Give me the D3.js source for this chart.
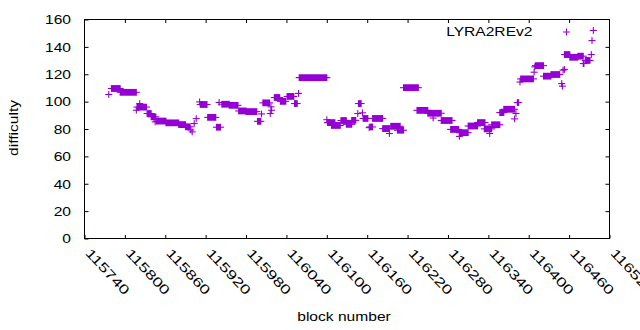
<!DOCTYPE html>
<html><head><meta charset="utf-8">
<script src="https://cdn.jsdelivr.net/npm/d3@7/dist/d3.min.js"></script>
<style>body{margin:0;background:#fff}svg{display:block}</style>
</head><body><svg id="c" width="640" height="330"></svg>
<script>
// Runs of constant difficulty: first block, last block, difficulty (single points have start == end)
const runStart = [115776,115780,115793,115817,115818,115822,115833,115839,115845,115847,115861,115880,115890,115898,115900,115903,115906,115911,115912,115923,115936,115940,115944,115955,115969,115980,115997,116003,116005,116016,116017,116018,116022,116031,116041,116052,116058,116059,
116100,116101,116107,116121,116129,116137,116146,116147,116153,116154,116163,116164,116168,116183,116193,116195,116205,116214,116234,116250,116258,116270,116284,116297,116297,116310,116324,116334,116342,116345,116357,116363,116379,116381,116383,116387,116388,116408,116409,116410,116422,116433,116449,116450,116451,116453,116453,116461,116473,116481,116484,116493,116494,116496];
const runEnd = [115776,115793,115817,115817,115832,115822,115839,115846,115845,115861,115880,115890,115897,115898,115900,115903,115906,115911,115922,115935,115942,115940,115955,115968,115980,115996,116002,116003,116015,116016,116017,116018,116030,116039,116051,116056,116058,116100,
116100,116112,116120,116129,116137,116143,116146,116151,116153,116161,116163,116168,116183,116193,116193,116209,116214,116236,116250,116270,116258,116286,116296,116297,116310,116324,116335,116345,116342,116357,116363,116379,116379,116381,116385,116387,116407,116408,116409,116422,116433,116446,116449,116450,116451,116453,116461,116473,116481,116482,116491,116493,116494,116496];
const runDiff = [105.2,109.6,106.8,93.7,96.0,98.6,91.3,88.9,85.2,85.8,84.5,83.2,81.6,79.3,77.9,84.0,87.6,99.8,97.9,88.5,81.3,99.4,98.1,97.3,93.2,92.7,85.6,91.0,99.1,91.3,96.2,93.7,103.0,100.2,103.8,98.6,106.0,117.5,
86.8,84.7,82.6,86.2,83.4,86.3,91.3,98.6,91.8,87.7,81.0,81.5,87.7,80.3,76.7,82.0,79.1,110.2,93.6,91.5,88.0,86.2,79.7,74.6,77.3,82.2,84.7,80.1,76.7,83.1,92.0,94.4,87.4,91.3,99.3,114.3,116.6,121.5,125.4,126.3,118.6,119.8,113.2,111.3,123.0,123.5,134.4,132.4,133.2,127.8,130.1,134.4,144.6,152.0];

const xTickValues = [115740,115800,115860,115920,115980,116040,116100,116160,116220,116280,116340,116400,116460,116520];
const yTickValues = [0,20,40,60,80,100,120,140,160];
const seriesName = "LYRA2REv2";
const xTitle = "block number";
const yTitle = "difficulty";

const W = 640, H = 330;
const L = 84.5, R = 609.5, T = 19.5, B = 238.5;
const COLOR = "#9400d3";
const FONT = "'Liberation Sans', Arial, sans-serif";
const SX = 1.3; // horizontal stretch of glyphs
const FS = 12;

const svg = d3.select("#c");
svg.append("rect").attr("width", W).attr("height", H).attr("fill", "#fff");

const x = d3.scaleLinear().domain([115740, 116520]).range([L, R]);
const y = d3.scaleLinear().domain([0, 160]).range([B, T]);

// axes (inward ticks on all four sides)
const gL = svg.append("g").attr("transform", `translate(${L},0)`)
  .call(d3.axisLeft(y).tickValues(yTickValues).tickSizeInner(-4).tickSizeOuter(0).tickPadding(0));
const gRt = svg.append("g").attr("transform", `translate(${R},0)`)
  .call(d3.axisRight(y).tickValues(yTickValues.slice(1, -1)).tickSizeInner(-4).tickSizeOuter(0).tickFormat(""));
const gB = svg.append("g").attr("transform", `translate(0,${B})`)
  .call(d3.axisBottom(x).tickValues(xTickValues).tickSizeInner(-3.5).tickSizeOuter(0).tickFormat(d3.format("d")));
const gT = svg.append("g").attr("transform", `translate(0,${T})`)
  .call(d3.axisTop(x).tickValues(xTickValues.slice(1, -1)).tickSizeInner(-3.5).tickSizeOuter(0).tickFormat(""));

[gL, gRt, gB, gT].forEach(g => {
  g.select(".domain").remove();
  g.selectAll(".tick line").attr("stroke", "#000").attr("stroke-width", 1);
});

gL.selectAll(".tick text")
  .attr("x", null).attr("dy", null)
  .attr("font-family", FONT).attr("font-size", FS).attr("fill", "#000")
  .attr("text-anchor", "end").attr("dominant-baseline", "central")
  .attr("transform", `translate(-13.5,0) scale(${SX},1)`);

gB.selectAll(".tick text")
  .attr("y", null).attr("dy", null)
  .attr("font-family", FONT).attr("font-size", 13).attr("fill", "#000")
  .attr("text-anchor", "start").attr("dominant-baseline", "central")
  .attr("transform", `translate(3,12) rotate(47) scale(1.36,1)`);

// border
svg.append("rect").attr("x", L).attr("y", T).attr("width", R - L).attr("height", B - T)
  .attr("fill", "none").attr("stroke", "#000").attr("stroke-width", 1);

// axis titles
svg.append("text").text(xTitle)
  .attr("font-family", FONT).attr("font-size", FS).attr("text-anchor", "middle")
  .attr("transform", `translate(${(L + R) / 2 - 3},321) scale(${SX},1)`);
svg.append("text").text(yTitle)
  .attr("font-family", FONT).attr("font-size", FS).attr("text-anchor", "middle")
  .attr("transform", `translate(17.5,${(T + B) / 2 - 1}) rotate(-90) scale(${SX},1)`);

// data: + markers for each constant-difficulty run
const HA = 3.5, VA = 3.4;
const runs = runStart.map((s, i) => ({ s, e: runEnd[i], d: runDiff[i] }));
const g = svg.append("g").attr("fill", COLOR).attr("stroke", COLOR);
const mk = g.selectAll("g.run").data(runs).join("g").attr("class", "run");
mk.append("path")
  .attr("fill", "none").attr("stroke-width", 1.1)
  .attr("d", r => `M${x(r.s) - HA},${y(r.d)}H${x(r.e) + HA}`);
mk.append("rect")
  .attr("stroke", "none")
  .attr("x", r => x(r.s) - 0.55)
  .attr("width", r => x(r.e) - x(r.s) + 1.1)
  .attr("y", r => y(r.d) - VA)
  .attr("height", 2 * VA);

// legend
const lx = R - 43, ly = 32;
svg.append("text").text(seriesName)
  .attr("font-family", FONT).attr("font-size", FS).attr("text-anchor", "end")
  .attr("dominant-baseline", "central")
  .attr("transform", `translate(${R - 77},${ly}) scale(${SX},1)`);
svg.append("path").attr("stroke", COLOR).attr("stroke-width", 1.1).attr("fill", "none")
  .attr("d", `M${lx - HA},${ly}H${lx + HA}M${lx},${ly - VA}V${ly + VA}`);
</script>
</body></html>
